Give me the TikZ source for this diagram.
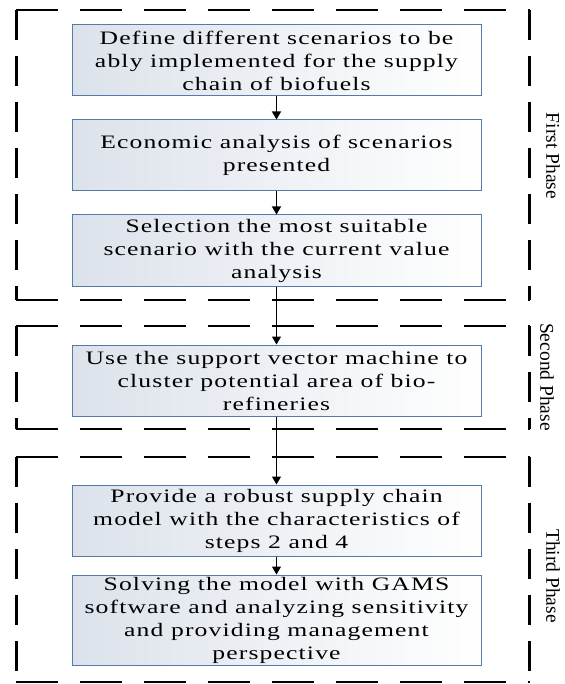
\documentclass[tikz,border=0pt]{standalone}
\usepackage{fontspec}
\setmainfont{Liberation Serif}
\newfontfamily\boxfont{Liberation Serif}[FakeStretch=1.35,LetterSpace=6.0]
\usetikzlibrary{positioning,arrows.meta}
\definecolor{boxline}{RGB}{84,122,172}
\definecolor{boxfill}{RGB}{220,226,235}
\tikzset{%
  box/.style={draw=boxline, line width=1pt, left color=boxfill, right color=white, minimum width=409pt, minimum height=71pt, inner ysep=2pt, align=center, font=\boxfont\fontsize{19}{23}\selectfont},
  flow/.style={draw, line width=1.2pt, -{Triangle[length=8pt,width=9pt]}},
  hframe/.style={draw, line width=2.6pt, dash pattern=on 42pt off 22pt},
  vframe/.style={draw, line width=3pt, dash pattern=on 30pt off 16pt},
  phasetext/.style={rotate=-90, font=\fontsize{19.5}{22}\selectfont},
}

\begin{document}
\begin{tikzpicture}[x=1pt, y=-1pt]
\useasboundingbox (0,0) rectangle (564,684);
% phase frames
\foreach \t/\b in {10/300, 326/429, 457/682} {
  \draw[hframe] (16,\t) -- (529.5,\t);
  \draw[hframe] (16,\b) -- (529.5,\b);
  \draw[vframe] (16,\t) -- (16,\b);
  \draw[vframe] (529.5,\t) -- (529.5,\b);
}
\node[box] (1) at (276.5,60.5) {Define different scenarios to be\\ ably implemented for the supply\\ chain of biofuels};
\node[box, below=23pt of 1] (2) {Economic analysis of scenarios\\ presented};
\node[box, below=23pt of 2] (3) {Selection the most suitable\\ scenario with the current value\\ analysis};
\node[box, below=58pt of 3] (4) {Use the support vector machine to\\ cluster potential area of bio-\\ refineries};
\node[box, below=68pt of 4] (5) {Provide a robust supply chain\\ model with the characteristics of\\ steps 2 and 4};
\node[box, below=18pt of 5] (6) {Solving the model with GAMS\\ software and analyzing sensitivity\\ and providing management\\ perspective};
\node[phasetext] (p1) at (553,156) {First Phase};
\node[phasetext] (p2) at (547,377) {Second Phase};
\node[phasetext] (p3) at (553,576) {Third Phase};
\draw[flow] (1) -- (2);
\draw[flow] (2) -- (3);
\draw[flow] (3) -- (4);
\draw[flow] (4) -- (5);
\draw[flow] (5) -- (6);
\end{tikzpicture}
\end{document}
